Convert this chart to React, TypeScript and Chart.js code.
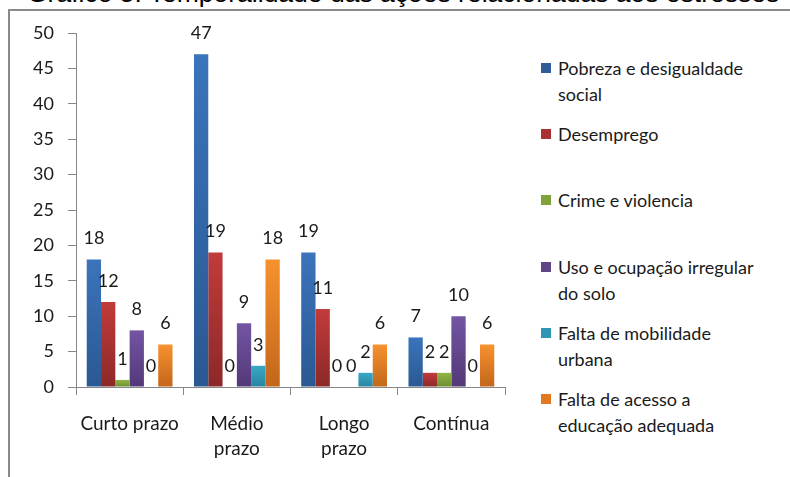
import React, { useEffect, useRef } from "react";
import { Chart, registerables } from "chart.js";

Chart.register(...registerables);

const title = "Gráfico 5: Temporalidade das ações relacionadas aos estresses";
const categories: (string | string[])[] = ["Curto prazo", ["Médio", "prazo"], ["Longo", "prazo"], "Contínua"];
const seriesNames = [
  "Pobreza e desigualdade social",
  "Desemprego",
  "Crime e violencia",
  "Uso e ocupação irregular do solo",
  "Falta de mobilidade urbana",
  "Falta de acesso a educação adequada",
];
const legendLines = [
  ["Pobreza e desigualdade", "social"],
  ["Desemprego"],
  ["Crime e violencia"],
  ["Uso e ocupação irregular", "do solo"],
  ["Falta de mobilidade", "urbana"],
  ["Falta de acesso a", "educação adequada"],
];
const pobreza = [18, 47, 19, 7];
const desemprego = [12, 19, 11, 2];
const crime = [1, 0, 0, 2];
const usoSolo = [8, 9, 0, 10];
const mobilidade = [0, 3, 2, 0];
const educacao = [6, 18, 6, 6];
const seriesValues = [pobreza, desemprego, crime, usoSolo, mobilidade, educacao];
const yTicks = [0, 5, 10, 15, 20, 25, 30, 35, 40, 45, 50];

const topColors = ["#3b74bb", "#c23b3b", "#8fb645", "#7355a3", "#38a9c8", "#f7922e"];
const bottomColors = ["#2a5893", "#8c2828", "#6c8e2e", "#533878", "#2a84a0", "#c2661b"];
const legendColors = ["#2f5d99", "#a83131", "#7fa23b", "#5f4486", "#2f97b4", "#e27820"];

const FONT = "Lato";

const dataLabelPlugin = {
  id: "dataLabels",
  afterDatasetsDraw(chart: any) {
    const ctx = chart.ctx;
    ctx.save();
    ctx.font = `18px ${FONT}`;
    ctx.fillStyle = "#1a1a1a";
    ctx.textAlign = "center";
    ctx.textBaseline = "middle";
    chart.data.datasets.forEach((ds: any, i: number) => {
      const meta = chart.getDatasetMeta(i);
      meta.data.forEach((el: any, j: number) => {
        ctx.fillText(String(ds.data[j]), el.x, el.y - 21);
      });
    });
    ctx.restore();
  },
};

export default function App() {
  const ref = useRef<HTMLCanvasElement>(null);
  useEffect(() => {
    if (!ref.current) return;
    const chart = new Chart(ref.current, {
      type: "bar",
      data: {
        labels: categories,
        datasets: seriesValues.map((vals, i) => ({
          label: seriesNames[i],
          data: vals,
          backgroundColor: (c: any) => {
            const ch = c.chart;
            const y = ch.scales && ch.scales.y;
            if (!y || c.raw === undefined || c.raw === 0) return topColors[i];
            const top = y.getPixelForValue(c.raw);
            const base = y.getPixelForValue(0);
            if (!isFinite(top) || !isFinite(base) || top === base) return topColors[i];
            const g = ch.ctx.createLinearGradient(0, top, 0, base);
            g.addColorStop(0, topColors[i]);
            g.addColorStop(1, bottomColors[i]);
            return g;
          },
          borderWidth: 0,
          categoryPercentage: 0.8,
          barPercentage: 1.0,
        })),
      },
      options: {
        animation: false,
        responsive: false,
        maintainAspectRatio: false,
        layout: { padding: { top: 33, left: 0, right: 15, bottom: 0 } },
        plugins: { legend: { display: false }, tooltip: { enabled: false }, title: { display: false } },
        scales: {
          x: {
            grid: { drawOnChartArea: false, tickLength: 8, color: "#868686", offset: true },
            border: { color: "#868686" },
            ticks: { font: { family: FONT, size: 19, lineHeight: 1.32 }, color: "#1a1a1a", padding: 16, maxRotation: 0, autoSkip: false },
            afterFit: (s: any) => { s.height = 90; },
          },
          y: {
            min: 0,
            max: 50,
            afterBuildTicks: (s: any) => { s.ticks = yTicks.map((v) => ({ value: v })); },
            grid: { drawOnChartArea: false, tickLength: 8, color: "#868686" },
            border: { color: "#868686" },
            ticks: { font: { family: FONT, size: 18 }, color: "#1a1a1a", padding: 14 },
            afterFit: (s: any) => { s.width = 76; },
          },
        },
      },
      plugins: [dataLabelPlugin],
    });
    return () => chart.destroy();
  }, []);

  return (
    <div style={{ position: "fixed", left: 0, top: 0, width: 790, height: 477, overflow: "hidden", background: "#fff" }}>
      <div style={{ position: "absolute", left: 27, top: -22, fontFamily: "'Liberation Sans', Arial, sans-serif", fontSize: 26.5, lineHeight: "30px", color: "#000", whiteSpace: "nowrap" }}>
        {title}
      </div>
      <div style={{ position: "absolute", left: 8, top: 9, width: 800, height: 500, borderLeft: "2px solid #8a8a8a", borderTop: "2px solid #8a8a8a" }} />
      <canvas ref={ref} width={520} height={477} style={{ position: "absolute", left: 0, top: 0, width: 520, height: 477 }} />
      <div style={{ position: "absolute", left: 541, top: 55, fontFamily: FONT, fontSize: 18, color: "#1a1a1a" }}>
        {legendLines.map((lines, i) => (
          <div key={i} style={{ position: "relative", height: 66.2, lineHeight: "26px" }}>
            <div style={{ position: "absolute", left: 0, top: 8, width: 10, height: 10, background: legendColors[i] }} />
            <div style={{ position: "absolute", left: 17, top: 0, whiteSpace: "nowrap" }}>
              {lines.map((l, k) => (<div key={k}>{l}</div>))}
            </div>
          </div>
        ))}
      </div>
    </div>
  );
}
